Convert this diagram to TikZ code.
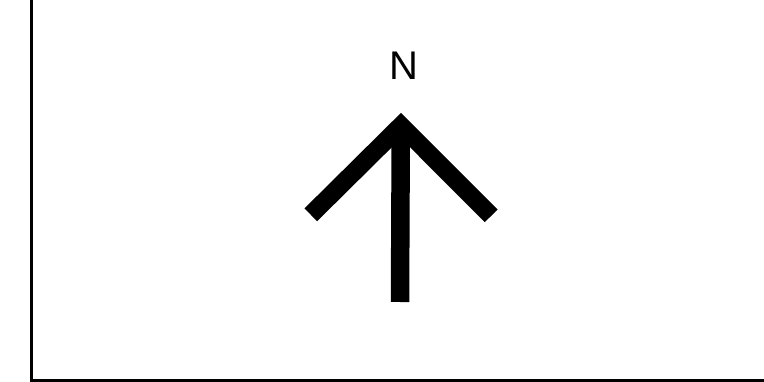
\documentclass[tikz,border=0pt]{standalone}
\usepackage{fontspec}
\setmainfont{Liberation Sans}
\begin{document}
\begin{tikzpicture}[x=1pt,y=-1pt,
  framestyle/.style={line width=3pt,black},
  arrowbar/.style={line width=18pt,black,line join=miter,line cap=butt},
  label/.style={anchor=base,inner sep=0pt,font=\fontsize{40}{48}\selectfont}]
\useasboundingbox (0,0) rectangle (764,382);
\draw[framestyle] (31.5,0) -- (31.5,380.5) -- (764,380.5);
\draw[arrowbar] (310.8,214.8) -- (401,125.5) -- (491.2,215.8);
\draw[arrowbar,line width=18.5pt] (400.8,126) -- (400,302);
\node[label] (north) at (403.5,80) {N};
\end{tikzpicture}
\end{document}
